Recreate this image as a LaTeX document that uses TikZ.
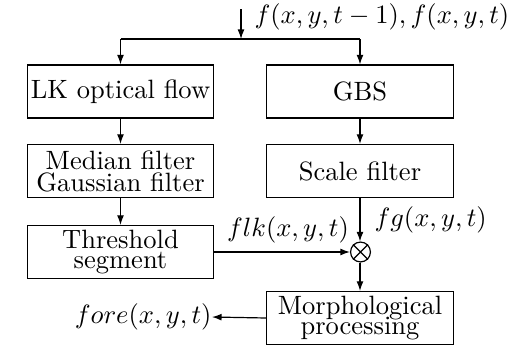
\documentclass[tikz,border=0pt]{standalone}
\usetikzlibrary{arrows.meta}
\begin{document}
\begin{tikzpicture}[x=0.3773pt,y=-0.3773pt,
  blk/.style={draw,line width=0.45pt,minimum width=70.4pt,minimum height=20pt,inner sep=0pt,align=center},
  arr/.style={line width=0.45pt,-{Latex[length=3.6pt,width=2.6pt]}},
  ln/.style={line width=0.45pt},
  mult/.style={draw,circle,line width=0.45pt,minimum size=7.5pt,inner sep=0pt}]
\useasboundingbox (0,0) rectangle (509,346);
\node[blk] (lk) at (120.5,91.5) {LK optical flow};
\node[blk] (gbs) at (360,91.5) {GBS};
\node[blk] (med) at (120.5,171) {Median filter\\[-3.7pt]Gaussian filter};
\node[blk] (sc) at (360,171) {Scale filter};
\node[blk] (th) at (120.5,252) {Threshold\\[-4.5pt]segment};
\node[blk] (mo) at (360,318) {Morphological\\[-4.5pt]processing};
\node[mult] (ot) at (360.5,252) {};
\draw[ln] (ot.north west) -- (ot.south east) (ot.north east) -- (ot.south west);
\coordinate (in) at (241,9);
\coordinate (sp) at (241,39);
\coordinate (sl) at (120.5,39);
\coordinate (sr) at (360,39);
\node[anchor=west,inner sep=0pt] (inl) at (254,17) {$f(x,y,t-1),f(x,y,t)$};
\node[anchor=west,inner sep=0pt] (fg) at (374,220) {$fg(x,y,t)$};
\node[anchor=south,inner sep=0pt] (flk) at (288,244) {$flk(x,y,t)$};
\node[anchor=east,inner sep=0pt] (fo) at (212,317) {$fore(x,y,t)$};
\draw[arr] (in) -- (sp);
\draw[ln] (sl) -- (sr);
\draw[arr] (sl) -- (lk.north);
\draw[arr] (sr) -- (gbs.north);
\draw[arr] (lk) -- (med);
\draw[arr] (gbs) -- (sc);
\draw[arr] (med) -- (th);
\draw[arr] (sc.south) -- (sc.south |- ot.north);
\draw[arr] (th.east) -- (ot.west);
\draw[arr] (ot.south -| mo.north) -- (mo.north);
\draw[arr] (mo.west) -- (fo.east);
\end{tikzpicture}
\end{document}
